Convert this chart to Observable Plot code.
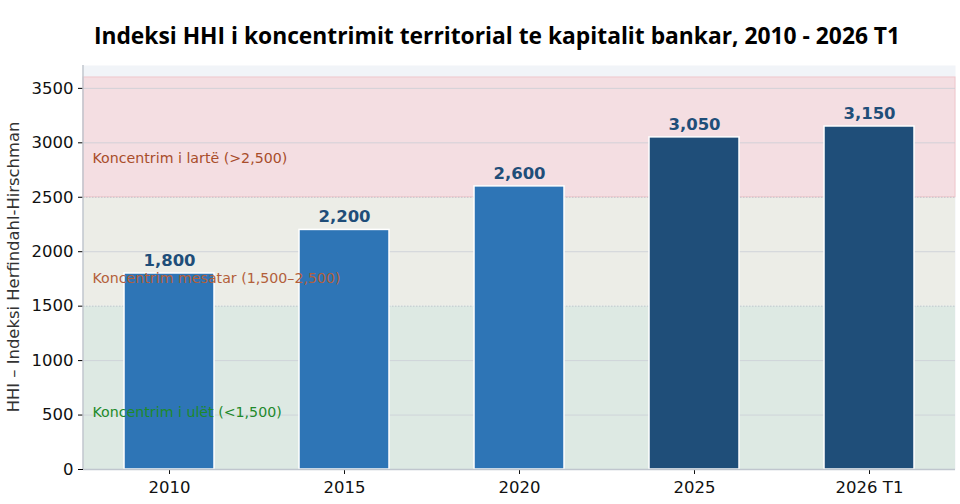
<!DOCTYPE html>
<html><head><meta charset="utf-8">
<script src="https://cdn.jsdelivr.net/npm/d3@7"></script>
<script src="https://cdn.jsdelivr.net/npm/@observablehq/plot@0.6"></script>
<style>
body{margin:0;background:#fff;width:960px;height:504px;overflow:hidden}
#title{height:55px;box-sizing:border-box;padding-top:22px;text-align:center;font-family:"Open Sans",sans-serif;font-weight:700;font-size:22.8px;color:#000;line-height:28px;padding-left:34px;white-space:nowrap}
</style></head><body>
<div id="title">Indeksi HHI i koncentrimit territorial te kapitalit bankar, 2010 - 2026 T1</div>
<div id="chart"></div>
<script>
const categories = ["2010","2015","2020","2025","2026 T1"];
const values = [1800, 2200, 2600, 3050, 3150];
const shades = ["light","light","light","dark","dark"];
const bandLows = [0, 1500, 2500];
const bandHighs = [1500, 2500, 3600];
const bandNames = ["Koncentrim i ulët (<1,500)", "Koncentrim mesatar (1,500–2,500)", "Koncentrim i lartë (>2,500)"];
const bandLabelY = [520, 1750, 2860];
const bandFills = ["#dde9e3", "#ecede7", "#f4dee2"];
const bandStrokes = ["none", "none", "#f0c6cb"];
const bandTextColors = ["#1e8a2a", "#b3603a", "#a84d2a"];
const yTicks = [0,500,1000,1500,2000,2500,3000,3500];

const bars = categories.map((c,i)=>({cat:c, value:values[i], shade:shades[i]}));
const bands = bandLows.map((lo,i)=>({lo, hi:bandHighs[i], name:bandNames[i], ly:bandLabelY[i], fill:bandFills[i], stroke:bandStrokes[i], tc:bandTextColors[i]}));

const chart = Plot.plot({
  width: 960,
  height: 449,
  marginLeft: 83,
  marginRight: 5,
  marginTop: 10,
  marginBottom: 35,
  style: {fontFamily: "DejaVu Sans, sans-serif", fontSize: "16.5px", color: "#111", background: "transparent"},
  x: {domain: categories, paddingInner: 0.4865, paddingOuter: 0.231, label: null},
  y: {domain: [0, 3710], label: null, ticks: yTicks},
  marks: [
    Plot.frame({fill: "#f1f4f8", stroke: "none"}),
    Plot.rectY(bands, {y1: "lo", y2: "hi", fill: d => d.fill, stroke: d => d.stroke, strokeWidth: 1}),
    Plot.ruleY(yTicks.filter(t=>t>0 && t!==1500 && t!==2500), {stroke: "#c9ced6", strokeWidth: 0.8, strokeOpacity: 1}),
    Plot.ruleY([1500, 2500], {stroke: "#b8bec8", strokeDasharray: "1.5,1.5", strokeWidth: 0.8}),
    Plot.barY(bars, {x: "cat", y: "value", fill: d => d.shade === "dark" ? "#1f4e79" : "#2e75b6", stroke: "#fff", strokeWidth: 1.5}),
    Plot.text(bands, {x: () => categories[0], dx: -77, y: "ly", text: "name", fill: d => d.tc, textAnchor: "start", fontSize: 14.2, fontFamily: "DejaVu Sans, sans-serif"}),
    Plot.text(bars, {x: "cat", y: "value", text: d => d3.format(",")(d.value), dy: -13, fill: "#1f4e79", fontWeight: "bold", fontSize: 16.5, fontFamily: "DejaVu Sans, sans-serif"}),
    Plot.axisY({ticks: yTicks, tickSize: 5, tickPadding: 5, stroke: "#000", fontSize: 16.5, label: null, tickFormat: d => String(d)}),
    Plot.axisX({tickSize: 5, tickPadding: 7, fontSize: 16.5, label: null}),
    Plot.ruleY([0], {stroke: "#c0c6ce", strokeWidth: 1.5}),
  ]
});
document.getElementById("chart").appendChild(chart);

const svg = d3.select(chart);
svg.append("line").attr("x1",83).attr("x2",83).attr("y1",10).attr("y2",414).attr("stroke","#c0c6ce").attr("stroke-width",1.5);
svg.append("text").attr("transform","translate(14,212) rotate(-90)").attr("text-anchor","middle").attr("dominant-baseline","middle")
  .attr("font-family","DejaVu Sans, sans-serif").attr("font-size",16.4).attr("fill","#333").text("HHI – Indeksi Herfindahl-Hirschman");
</script>
</body></html>
